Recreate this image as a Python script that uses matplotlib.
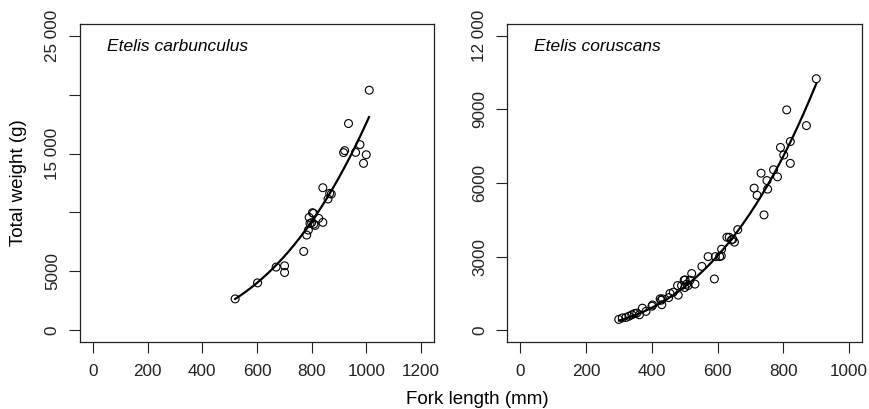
import numpy as np
import matplotlib
matplotlib.use("Agg")
import matplotlib.pyplot as plt

plt.rcParams['font.family'] = ['Liberation Sans', 'DejaVu Sans']

# ---- data: Etelis carbunculus ----
carb_len = [520, 602, 670, 701, 701, 771, 782, 788, 791, 794, 800, 803, 807, 808,
            813, 826, 841, 841, 860, 866, 872, 917, 921, 935, 961, 977, 1000, 990, 1011]
carb_wt = [2660, 4020, 5360, 5470, 4900, 6690, 8080, 8500, 9580, 9070, 9130, 9980, 9920, 9010,
           8900, 9500, 9160, 12100, 11140, 11620, 11560, 15080, 15250, 17550, 15100, 15760, 14900, 14170, 20380]
carb_fit_b = 2.89          # exponent of fitted W = a L^b
carb_fit_ref = (1010, 18090)  # (length, weight) on the fitted curve
carb_fit_range = (520, 1010)

# ---- data: Etelis coruscans ----
cor_len = [299, 310, 321, 330, 339, 347, 354, 362, 371, 382, 400, 402, 425, 428, 430, 432,
           451, 455, 465, 480, 478, 490, 498, 500, 501, 506, 510, 516, 521, 531, 552, 571,
           590, 593, 606, 612, 611, 628, 635, 642, 646, 651, 661, 711, 720, 732, 741, 750,
           752, 770, 782, 791, 801, 810, 821, 821, 870, 900]
cor_wt = [440, 500, 520, 570, 630, 680, 700, 630, 900, 770, 980, 1030, 1280, 1220, 1040, 1280,
          1330, 1500, 1550, 1430, 1820, 1820, 2040, 1740, 2050, 1880, 1820, 2040, 2310, 1880, 2600, 3000,
          2090, 3000, 3000, 3300, 3030, 3790, 3790, 3680, 3710, 3590, 4100, 5790, 5500, 6400, 4700, 6100,
          5750, 6540, 6250, 7450, 7140, 8980, 7690, 6800, 8340, 10250]
cor_fit_b = 2.95
cor_fit_ref = (900, 10050)
cor_fit_range = (300, 900)

carb_yticks = [0, 5000, 10000, 15000, 20000, 25000]
carb_yticklabels = ['0', '5000', '', '15 000', '', '25 000']
carb_xticks = [0, 200, 400, 600, 800, 1000, 1200]
cor_yticks = [0, 3000, 6000, 9000, 12000]
cor_yticklabels = ['0', '3000', '6000', '9000', '12 000']
cor_xticks = [0, 200, 400, 600, 800, 1000]

W, H = 869, 409
fig = plt.figure(figsize=(W / 100, H / 100), dpi=100)

def panel(rect, L, Wt, b, ref, rng, xlim, ylim, xticks, yticks, ylabels, title):
    ax = fig.add_axes(rect)
    ax.scatter(L, Wt, s=32, facecolors='none', edgecolors='black', linewidths=0.8, zorder=3)
    xs = np.linspace(rng[0], rng[1], 200)
    ys = ref[1] * (xs / ref[0]) ** b
    ax.plot(xs, ys, color='black', lw=1.6, zorder=2)
    ax.set_xlim(*xlim)
    ax.set_ylim(*ylim)
    ax.set_xticks(xticks)
    ax.set_xticklabels([str(t) for t in xticks])
    ax.set_yticks(yticks)
    ax.set_yticklabels(ylabels, rotation=90, va='center')
    ax.tick_params(direction='out', length=8, width=0.8, labelsize=12.3, colors='#222222', pad=8)
    ax.tick_params(axis='y', pad=6.5)
    for s in ax.spines.values():
        s.set_linewidth(0.9)
        s.set_color('#222222')
    ax.text(0.075, 0.93, title, transform=ax.transAxes, style='italic', fontsize=12.5,
            ha='left', va='center')
    return ax

bottom = (H - 342) / H
height = (342 - 24) / H
ax1 = panel([80 / W, bottom, 354 / W, height], carb_len, carb_wt, carb_fit_b, carb_fit_ref,
            carb_fit_range, (-48, 1248), (-1000, 26000), carb_xticks, carb_yticks,
            carb_yticklabels, 'Etelis carbunculus')
ax2 = panel([507.3 / W, bottom, 355 / W, height], cor_len, cor_wt, cor_fit_b, cor_fit_ref,
            cor_fit_range, (-40, 1040), (-480, 12480), cor_xticks, cor_yticks,
            cor_yticklabels, 'Etelis coruscans')

fig.text(19 / W, 1 - 183 / H, 'Total weight (g)', rotation=90, fontsize=13.5,
         ha='center', va='center')
fig.text(477 / W, 5 / H, 'Fork length (mm)', fontsize=13.5, ha='center', va='baseline')

fig.savefig('out.png', dpi=100)
